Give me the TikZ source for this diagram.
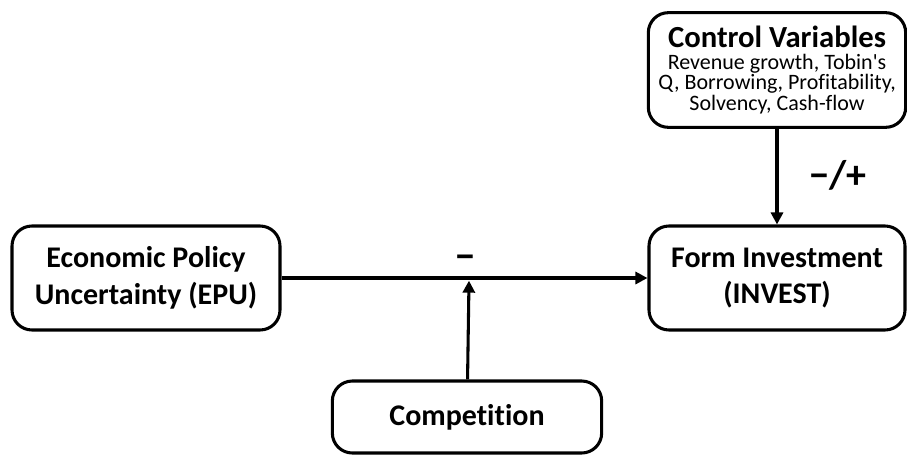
\documentclass[tikz,border=0pt]{standalone}
\usepackage{fontspec}
\setmainfont[Ligatures=NoCommon]{Carlito}
\usetikzlibrary{arrows.meta}
\tikzset{
  box/.style={draw,line width=2.3pt,rounded corners=15pt,align=center,inner sep=2pt},
  conn/.style={line width=2.3pt,-{Triangle[length=9pt,width=9pt]}},
  sign/.style={font=\fontsize{30}{32}\selectfont\bfseries}
}
\begin{document}
\begin{tikzpicture}[x=0.75pt,y=-0.75pt]
\useasboundingbox (0,0) rectangle (907,454);

\node[box,minimum width=201pt,minimum height=78pt,font=\fontsize{22.5}{27.5}\selectfont\bfseries]
  (epu) at (146,278) {Economic Policy\\Uncertainty (EPU)};
\node[box,minimum width=192pt,minimum height=78pt,font=\fontsize{22.5}{27.5}\selectfont\bfseries]
  (invest) at (777,278) {Form Investment\\(INVEST)};
\node[box,minimum width=193pt,minimum height=86pt,font=\fontsize{16.5}{15.5}\selectfont]
  (ctrl) at (777,70) {{\fontsize{23}{24}\selectfont\bfseries Control Variables}\\[1pt]Revenue growth, Tobin\textquotesingle s\\Q, Borrowing, Profitability,\\Solvency, Cash-flow};
\node[box,minimum width=202pt,minimum height=54pt,font=\fontsize{22.5}{27}\selectfont\bfseries]
  (comp) at (467,417) {Competition};

\coordinate (mid) at (469,278);

\draw[conn](epu)--(invest);
\draw[conn](comp)--([yshift=-2pt]mid);
\draw[conn](ctrl)--(invest);

\node[sign] (neg) at (465,262) {−};
\node[sign] (mixed) at (838,175) {−/+};
\end{tikzpicture}
\end{document}
